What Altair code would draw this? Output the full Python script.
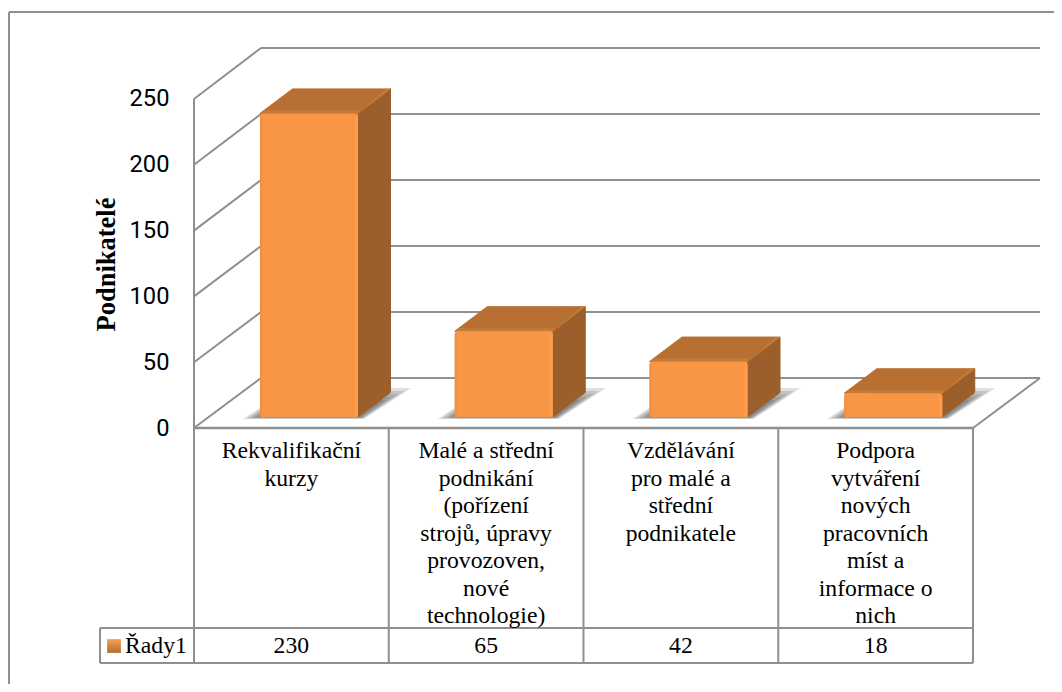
import altair as alt
import pandas as pd

# --- data ---
categories = [
    "Rekvalifikační\nkurzy",
    "Malé a střední\npodnikání\n(pořízení\nstrojů, úpravy\nprovozoven,\nnové\ntechnologie)",
    "Vzdělávání\npro malé a\nstřední\npodnikatele",
    "Podpora\nvytváření\nnových\npracovních\nmíst a\ninformace o\nnich",
]
values = [230, 65, 42, 18]
series_name = "Řady1"
y_ticks = [0, 50, 100, 150, 200, 250]
axis_title = "Podnikatelé"

# --- scale helpers: category units on x, value units on y ---
W, H = 1046, 676
COL = 194.75
PER = 1.32
def X(px): return (px - 194) / COL
def V(py): return (428 - py) / PER
xs = alt.Scale(domain=[X(8), X(8 + W)], range=[0, W], nice=False, zero=False)
ys = alt.Scale(domain=[V(8 + H), V(8)], range=[H, 0], nice=False, zero=False)
GREY = "#8f8f8f"
FS = 23.7

# --- frame, walls, floor, table ---
seg = []
def s(x1, y1, x2, y2, w=2):
    seg.append(dict(x=X(x1), y=V(y1), x2=X(x2), y2=V(y2), w=w))
s(9, 12, 8 + W, 12)
s(9, 12, 9, 8 + H)
for t in y_ticks:
    back = 378 - t * PER
    front = 428 - t * PER * 0.997
    s(261, back, 1040, back)
    s(194, front, 261, back)
s(194, 428 - 250 * PER * 0.997, 194, 663)
s(973, 428, 1040, 378)
s(194, 428, 973, 428, 2.5)
s(100, 628, 973, 628)
s(100, 663, 973, 663)
s(100, 628, 100, 663)
for i in range(1, 5):
    s(194 + i * COL, 428, 194 + i * COL, 663)
seg_df = pd.DataFrame(seg)

rules = alt.Chart(seg_df).mark_rule(color=GREY).encode(
    x=alt.X("x:Q", scale=xs, axis=None),
    y=alt.Y("y:Q", scale=ys, axis=alt.Axis(
        values=y_ticks, offset=-161, domain=False, ticks=False, grid=False,
        labelFontSize=23.7, labelFont="Roboto", labelColor="#000000", labelPadding=0,
        title=axis_title, titleFont="Liberation Serif", titleFontWeight="bold",
        titleFontSize=26.5, titleColor="#000000", titleX=-63, titleY=256,
        titleAngle=-90, titleAlign="center", titleBaseline="middle")),
    x2="x2:Q", y2="y2:Q",
    strokeWidth=alt.StrokeWidth("w:Q", scale=None),
)

# --- bars ---
BASE = V(417)
BW = 98 / COL
BO = 66 / COL
DX = 32.5 / COL
DY = 24.5 / PER
PX = 1 / COL
PY = 1 / PER

front, top, side, shadow, bevel, edge_l, edge_r = [], [], [], [], [], [], []
for i, v in enumerate(values):
    x0 = i + BO
    x1 = x0 + BW
    t = BASE + v
    front.append(dict(x=x0, x2=x1, y=t, y2=BASE))
    edge_l.append(dict(x=x0, x2=x0 + 2 * PX, y=t - 2 * PY, y2=BASE))
    edge_r.append(dict(x=x1 - 3 * PX, x2=x1, y=t - 2 * PY, y2=BASE))
    top += [
        dict(b=i, x=x0, u=t, l=t),
        dict(b=i, x=x0 + DX, u=t + DY, l=t),
        dict(b=i, x=x1, u=t + DY, l=t),
        dict(b=i, x=x1 + DX, u=t + DY, l=t + DY),
    ]
    side += [
        dict(b=i, x=x1, u=t, l=BASE),
        dict(b=i, x=x1 + DX, u=t + DY, l=BASE + DY),
    ]
    bevel += [
        dict(b=i, x=x0, u=t, l=t),
        dict(b=i, x=x0 + 4 * PX, u=t + 3 * PY, l=t),
        dict(b=i, x=x1 + 1 * PX, u=t + 3 * PY, l=t),
        dict(b=i, x=x1 + 1 * PX, u=t + 3 * PY, l=t + 3 * PY),
    ]
    bevel += [
        dict(b=f"{i}r", x=x1, u=t, l=t),
        dict(b=f"{i}r", x=x1 + DX - 4 * PX, u=t + DY, l=t + DY * (DX - 4 * PX) / DX),
        dict(b=f"{i}r", x=x1 + DX, u=t + DY, l=t + DY),
    ]
    for k, e in enumerate([1.0, 0.8, 0.6, 0.4, 0.2]):
        g = f"{i}-{k}"
        a = x0 + (-17 * e) / COL
        c = x0 + (100 + 4 * e) / COL
        hi_px = 14 + 15 * e
        sh = (hi_px * 1.35 + 8 * e) / COL
        lo = BASE - (2 * e) / PER
        hi = BASE + hi_px / PER
        shadow += [
            dict(b=g, x=a, u=lo, l=lo),
            dict(b=g, x=a + sh, u=hi, l=lo),
            dict(b=g, x=c, u=hi, l=lo),
            dict(b=g, x=c + sh, u=hi, l=hi),
        ]

def area(rows, **kw):
    return alt.Chart(pd.DataFrame(rows)).mark_area(orient="vertical", **kw).encode(
        x=alt.X("x:Q", scale=xs, axis=None),
        y=alt.Y("u:Q", scale=ys, axis=None, stack=None),
        y2="l:Q",
        detail="b:N",
    )

def boxes(rows, **kw):
    return alt.Chart(pd.DataFrame(rows)).mark_bar(**kw).encode(
        x=alt.X("x:Q", scale=xs, axis=None), x2="x2:Q",
        y=alt.Y("y:Q", scale=ys, axis=None), y2="y2:Q",
    )

shadow_l = area(shadow, color="#444444", opacity=0.17)
side_l = area(side, color="#9c5e2b", stroke="#9c5e2b", strokeWidth=1, strokeJoin="round")
top_l = area(top, color="#b87032", stroke="#b87032", strokeWidth=1, strokeJoin="round")
bevel_l = area(bevel, color="#c47b3a")
front_l = boxes(front, color="#f89646", cornerRadiusTopLeft=3, cornerRadiusTopRight=3)
edge_l_l = boxes(edge_l, color="#ee8f43", cornerRadiusTopLeft=2)
edge_r_l = boxes(edge_r, color="#fe9d4b", cornerRadiusTopRight=2)

# --- table text ---
def text(df, **kw):
    return alt.Chart(df).mark_text(
        font="Liberation Serif", fontSize=FS, color="#000000", **kw
    ).encode(x=alt.X("x:Q", scale=xs, axis=None), y=alt.Y("y:Q", scale=ys, axis=None), text="t:N")

cat_l = text(
    pd.DataFrame({"x": [i + 0.5 for i in range(4)], "y": [V(439)] * 4, "t": categories}),
    lineBreak="\n", lineHeight=27.5, baseline="top", align="center",
)
val_l = text(
    pd.DataFrame({"x": [i + 0.5 for i in range(4)], "y": [V(646)] * 4, "t": [str(v) for v in values]}),
    baseline="middle", align="center",
)
leg_t = text(
    pd.DataFrame({"x": [X(125)], "y": [V(646)], "t": [series_name]}),
    baseline="middle", align="left",
)

key_df = pd.DataFrame({"x": [X(114)], "y": [V(646)]})
key_l = alt.Chart(key_df).mark_point(
    shape="square", filled=True, size=190, strokeWidth=0, opacity=1,
    color=alt.Gradient(gradient="linear", x1=0, y1=0, x2=0, y2=1,
                       stops=[alt.GradientStop(offset=0, color="#f3a055"),
                              alt.GradientStop(offset=1, color="#b36d2f")]),
).encode(x=alt.X("x:Q", scale=xs, axis=None), y=alt.Y("y:Q", scale=ys, axis=None))

chart = alt.layer(
    rules, shadow_l, side_l, top_l, bevel_l, front_l, edge_l_l, edge_r_l, cat_l, val_l, leg_t, key_l
).resolve_axis(y="independent").properties(
    width=W, height=H, padding=0, autosize=alt.AutoSizeParams(type="none"), background="white"
).configure_view(stroke=None)

chart.save("out.html", embed_options={"renderer": "svg", "actions": False})
